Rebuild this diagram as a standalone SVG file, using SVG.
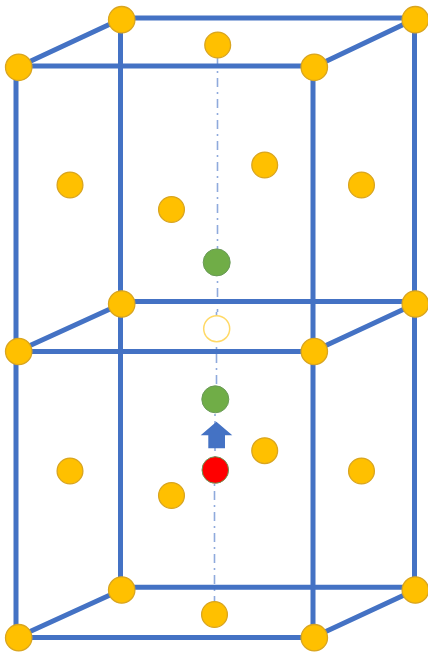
<svg xmlns="http://www.w3.org/2000/svg" width="428" height="652" viewBox="0 0 428 652">
<style>
.e{stroke:#4472c4;stroke-width:5;fill:none}
.d{stroke:#8faadc;stroke-width:1.6;fill:none;stroke-dasharray:9 5 2 5}
.y{fill:#ffc000;stroke:#d9a520;stroke-width:1.3}
.g{fill:#70ad47;stroke:#6a9a58;stroke-width:1}
</style>
<rect width="428" height="652" fill="#fff"/>
<g id="connectors">
<path class="d" d="M217.500 57V312M216.500 312V400M215 400V470M214.500 470V603"/>
<path class="e" d="M16 66H314M121 18H415M16 351.500H314M121 301.500H415M16 637.500H314M121 587.300H415"/>
<path class="e" d="M16 67V637M120.500 18V587M313 67V637M414.500 18V587"/>
<path class="e" d="M18 67L121 19M314 67L415 19M18 351L121 304M314 351L415 304M18 637L121 590M314 637L415 590"/>
</g>
<g id="n1"><circle class="y" cx="121.700" cy="19.700" r="13.200"/></g>
<g id="n2"><circle class="y" cx="415.300" cy="19.700" r="13.200"/></g>
<g id="n3"><circle class="y" cx="18.700" cy="67.300" r="13.200"/></g>
<g id="n4"><circle class="y" cx="314.300" cy="67.300" r="13.200"/></g>
<g id="n5"><circle class="y" cx="217.700" cy="45" r="12.900"/></g>
<g id="n6"><circle class="y" cx="70" cy="185" r="12.900"/></g>
<g id="n7"><circle class="y" cx="171.500" cy="209.500" r="12.900"/></g>
<g id="n8"><circle class="y" cx="264.700" cy="165" r="12.900"/></g>
<g id="n9"><circle class="y" cx="361.500" cy="185" r="12.900"/></g>
<g id="n10"><circle class="y" cx="121.700" cy="304" r="13.200"/></g>
<g id="n11"><circle class="y" cx="415.300" cy="304" r="13.200"/></g>
<g id="n12"><circle class="y" cx="18.700" cy="351.500" r="13.200"/></g>
<g id="n13"><circle class="y" cx="314.300" cy="351.500" r="13.200"/></g>
<g id="n14"><circle class="y" cx="70" cy="471" r="12.900"/></g>
<g id="n15"><circle class="y" cx="171.500" cy="495.500" r="12.900"/></g>
<g id="n16"><circle class="y" cx="264.700" cy="450.700" r="12.900"/></g>
<g id="n17"><circle class="y" cx="361.500" cy="471" r="12.900"/></g>
<g id="n18"><circle class="y" cx="121.700" cy="590" r="13.200"/></g>
<g id="n19"><circle class="y" cx="415.300" cy="590" r="13.200"/></g>
<g id="n20"><circle class="y" cx="18.700" cy="637.700" r="13.200"/></g>
<g id="n21"><circle class="y" cx="314.300" cy="637.700" r="13.200"/></g>
<g id="n22"><circle class="y" cx="214.500" cy="614.500" r="12.900"/></g>
<g id="green-upper"><circle class="g" cx="216.700" cy="262.400" r="13.500"/></g>
<g id="vacancy"><circle cx="216.700" cy="328.700" r="13" fill="#fff" stroke="#ffd966" stroke-width="1.500"/></g>
<g id="green-lower"><circle class="g" cx="215.300" cy="399.300" r="13.500"/></g>
<g id="arrow"><path d="M216.400 421.700L232.300 435.200H225V448.300H208.300V435.200H200.700Z" fill="#4472c4"/></g>
<g id="red"><circle cx="215.300" cy="470" r="13.300" fill="#f00" stroke="#6a9a58" stroke-width="1"/></g>
</svg>
